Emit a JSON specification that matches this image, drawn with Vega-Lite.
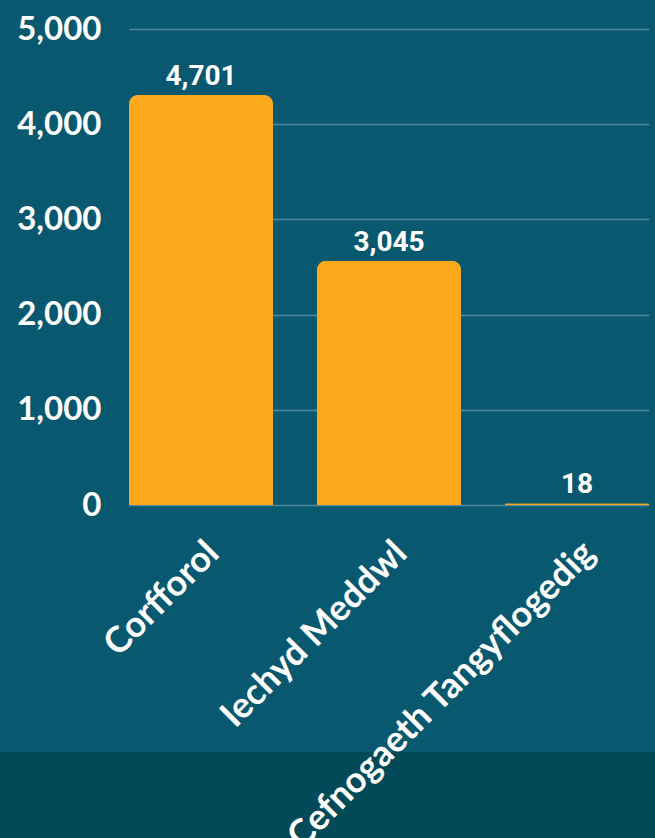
{
  "$schema": "https://vega.github.io/schema/vega-lite/v6.json",
  "autosize": "none",
  "width": 520,
  "height": 476,
  "padding": {"left": 129, "top": 29, "right": 6, "bottom": 333},
  "background": "#08586f",
  "config": {"view": {"stroke": null}},
  "data": {"values": [
    {"category": "Corfforol", "bar_value": 4307, "label": 4701},
    {"category": "Iechyd Meddwl", "bar_value": 2566, "label": 3045},
    {"category": "Cefnogaeth Tangyflogedig", "bar_value": 18, "label": 18}
  ]},
  "resolve": {"scale": {"x": "independent", "y": "independent"}},
  "layer": [
    {
      "mark": {"type": "rect", "color": "#034a59"},
      "encoding": {
        "x": {"datum": -0.3, "type": "quantitative", "scale": {"domain": [0, 1]}, "axis": null},
        "x2": {"datum": 1.1},
        "y": {"datum": -2594, "type": "quantitative", "scale": {"domain": [0, 5000]}, "axis": null},
        "y2": {"datum": -3700}
      }
    },
    {
      "encoding": {
        "x": {
          "field": "category", "type": "nominal", "sort": null,
          "scale": {"paddingInner": 0.234, "paddingOuter": 0},
          "axis": {
            "title": null, "domain": false, "ticks": false, "zindex": 1,
            "labelAngle": -45, "labelAlign": "right", "labelBaseline": "top",
            "labelPadding": 30, "labelLimit": 0, "labelOverlap": false,
            "labelFont": "Lato", "labelFontWeight": "bold", "labelFontSize": 36, "labelColor": "#ffffff"
          }
        },
        "y": {
          "field": "bar_value", "type": "quantitative",
          "scale": {"domain": [0, 5000], "nice": false},
          "axis": {
            "title": null, "domain": false, "ticks": false, "grid": true,
            "tickCount": 5, "format": ",d",
            "labelFont": "Lato", "labelFontWeight": "bold", "labelFontSize": 33, "labelColor": "#ffffff",
            "labelPadding": 28,
            "gridColor": "#4f899b", "gridOpacity": 1,
            "gridWidth": 1.5
          }
        }
      },
      "layer": [
        {
          "mark": {"type": "rule", "color": "#a9c6cf", "strokeWidth": 1.5},
          "encoding": {"y": {"datum": 0}}
        },
        {
          "mark": {"type": "bar", "color": "#fda91e", "cornerRadiusTopLeft": 9, "cornerRadiusTopRight": 9}
        },
        {
          "mark": {"type": "text", "font": "Roboto", "fontWeight": "bold", "fontSize": 28, "color": "#ffffff", "baseline": "alphabetic", "dy": -10},
          "encoding": {
            "text": {"field": "label", "type": "quantitative", "format": ","}
          }
        }
      ]
    }
  ]
}
